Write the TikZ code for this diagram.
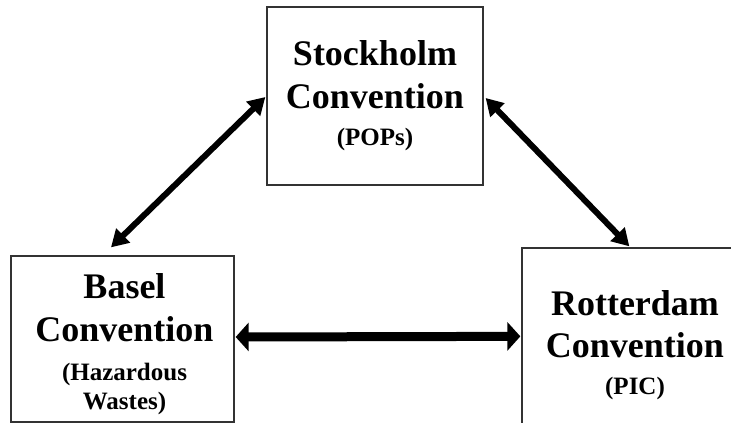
\documentclass[tikz,border=0pt]{standalone}
\usepackage{fontspec}
\setmainfont{Liberation Serif}
\usetikzlibrary{arrows.meta,calc}
\begin{document}
\begin{tikzpicture}[x=1pt,y=-1pt,
  box/.style={draw=black!80,line width=1.3pt,rectangle,inner sep=0pt},
  big/.style={anchor=base,inner sep=0pt,font=\fontsize{36}{40}\selectfont\bfseries},
  small/.style={anchor=base,inner sep=0pt,font=\fontsize{25}{28}\selectfont\bfseries},
  diag/.style={line width=6pt,{Triangle[length=17pt,width=19pt]}-{Triangle[length=17pt,width=19pt]}},
  horiz/.style={line width=9pt,{Triangle[length=13pt,width=28pt]}-{Triangle[length=13pt,width=28pt]}}
]
\path[use as bounding box,clip] (0,0) rectangle (731,423);
% boxes
\node[box,minimum width=216pt,minimum height=178pt] (S) at (375,96) {};
\node[box,minimum width=223pt,minimum height=166pt] (B) at (122.5,339) {};
\node[box,minimum width=220pt,minimum height=200pt] (R) at (632,348) {};
% texts
\node[big] (S1) at (375,65) {Stockholm};
\node[big] (S2) at (375,108) {Convention};
\node[small] (S3) at (375,145) {(POPs)};
\node[big] (B1) at (124.5,298) {Basel};
\node[big] (B2) at (124.5,341) {Convention};
\node[small] (B3) at (124.5,380) {(Hazardous};
\node[small] (B4) at (124.5,409) {Wastes)};
\node[big] (R1) at (635,315) {Rotterdam};
\node[big] (R2) at (635,357) {Convention};
\node[small] (R3) at (635,394) {(PIC)};
% connector end points
\coordinate (sb1) at ($(S.west)+(-1,1)$);
\coordinate (sb2) at ($(B.north)+(-11.5,-8)$);
\coordinate (sr1) at ($(S.east)+(2,2)$);
\coordinate (sr2) at ($(R.north west)+(108,-1)$);
\coordinate (br1) at ($(B.east)+(1,-2)$);
\coordinate (br2) at ($(R.north west)+(-1,89)$);
% connectors
\draw[diag] (sb1) -- (sb2);
\draw[diag] (sr1) -- (sr2);
\draw[horiz] (br1) -- (br2);
\end{tikzpicture}
\end{document}
